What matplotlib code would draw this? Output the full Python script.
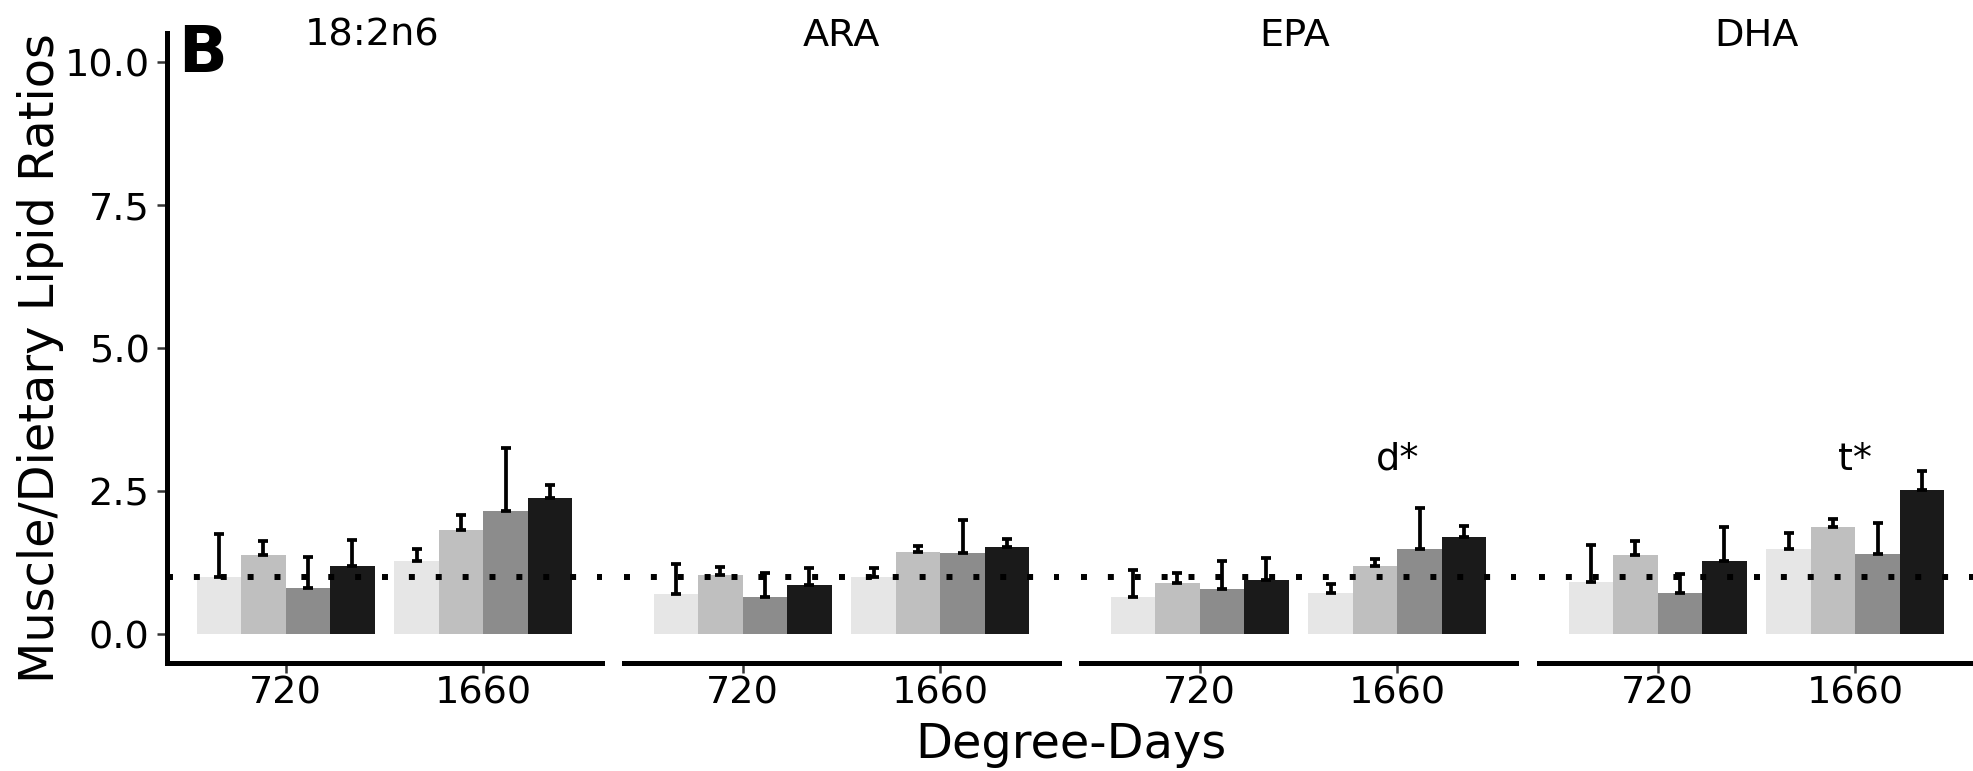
#!/usr/bin/env python3

## Muscle/dietary lipid ratios by fatty acid, degree-days and diet (panel B)

import numpy as np
import matplotlib
matplotlib.use('Agg')
import matplotlib.pyplot as plt
from matplotlib.ticker import FormatStrFormatter


# Data ============================================================== =====
fatty_acids=['18:2n6','ARA','EPA','DHA']
degree_days=['720','1660']
diets=['Diet 1','Diet 2','Diet 3','Diet 4']
diet_colors=['#E6E6E6','#BFBFBF','#8C8C8C','#1A1A1A']

# rows: degree-days (720, 1660), cols: diets
mean_182n6=[[1.00,1.38,0.81,1.19],[1.28,1.83,2.15,2.39]]
se_182n6  =[[0.76,0.25,0.54,0.46],[0.22,0.26,1.10,0.22]]
mean_ara  =[[0.71,1.04,0.66,0.86],[1.00,1.44,1.42,1.53]]
se_ara    =[[0.52,0.14,0.41,0.30],[0.16,0.10,0.57,0.13]]
mean_epa  =[[0.65,0.89,0.79,0.95],[0.72,1.20,1.49,1.70]]
se_epa    =[[0.47,0.18,0.50,0.38],[0.16,0.11,0.72,0.19]]
mean_dha  =[[0.91,1.38,0.73,1.28],[1.49,1.88,1.40,2.52]]
se_dha    =[[0.66,0.25,0.33,0.59],[0.29,0.14,0.55,0.34]]

means=[mean_182n6,mean_ara,mean_epa,mean_dha]
ses=[se_182n6,se_ara,se_epa,se_dha]

# significance letters (fatty acid, degree-days, text, y)
sig_fa=['EPA','DHA']
sig_dd=['1660','1660']
sig_txt=['d*','t*']
sig_y=[3.05,3.05]

ref_ratio=1.0
y_ticks=[0.0,2.5,5.0,7.5,10.0]


# Main part ========================================================= =====
def main():
# =================================================================== =====

    W,H=1974,771
    ndpi=100
    plt.rcParams['font.family']='DejaVu Sans'
    fig=plt.figure(figsize=(W/ndpi,H/ndpi),dpi=ndpi)

    # panel geometry (pixels)
    p_left=[167,624,1081,1539]
    p_wd=435
    p_top=33.4
    p_bot=663
    strip_dx=[-12,0,-4,0]   # small shifts of strip titles seen in the original

    fsz_tick=27.5
    fsz_lab=34.5
    bar_wd=0.225
    x=np.arange(1,len(degree_days)+1)
    offs=(np.arange(len(diets))-1.5)*bar_wd

    for i,fa in enumerate(fatty_acids):
        ax=fig.add_axes([p_left[i]/W,1-p_bot/H,p_wd/W,(p_bot-p_top)/H])
        mm=np.array(means[i])
        ss=np.array(ses[i])
        for j in range(len(diets)):
            ax.bar(x+offs[j],mm[:,j],width=bar_wd,color=diet_colors[j],
                   linewidth=0,zorder=2)
            ax.errorbar(x+offs[j],mm[:,j],yerr=[np.zeros(len(x)),ss[:,j]],
                        fmt='none',ecolor='black',elinewidth=2.7,
                        capsize=3.6,capthick=2.7,zorder=3)
        ax.axhline(ref_ratio,color='black',lw=4.3,ls=(0,(1,3.5)),
                   dash_capstyle='butt',zorder=4)

        for k in range(len(sig_txt)):
            if sig_fa[k]==fa:
                xk=degree_days.index(sig_dd[k])+1
                ax.text(xk,sig_y[k],sig_txt[k],ha='center',va='center',
                        fontsize=fsz_tick,zorder=5)

        ax.set_xlim(0.4,2.6)
        ax.set_ylim(-0.5,10.5)
        ax.set_xticks(x)
        ax.set_xticklabels(degree_days)
        ax.set_yticks(y_ticks)
        ax.yaxis.set_major_formatter(FormatStrFormatter('%.1f'))
        for sp in ['top','right']:
            ax.spines[sp].set_visible(False)
        ax.spines['bottom'].set_linewidth(3.6)
        ax.spines['left'].set_linewidth(3.6)
        ax.tick_params(axis='both',labelsize=fsz_tick,color='#333333',
                       width=1.8,length=7)
        ax.tick_params(axis='x',pad=2)
        ax.tick_params(axis='y',pad=5.5)
        if i>0:
            ax.spines['left'].set_visible(False)
            ax.tick_params(axis='y',left=False,labelleft=False)
        ax.patch.set_alpha(0)

        # strip title
        fig.text((p_left[i]+p_wd/2+strip_dx[i])/W,1-46/H,fa,ha='center',
                 va='baseline',fontsize=fsz_tick)

    # axis titles and panel tag
    fig.text(54/W,1-358/H,'Muscle/Dietary Lipid Ratios',rotation=90,
             rotation_mode='anchor',ha='center',va='baseline',fontsize=fsz_lab)
    fig.text(1071/W,1-758/H,'Degree-Days',ha='center',va='baseline',
             fontsize=fsz_lab)
    fig.text(178/W,1-72/H,'B',ha='left',va='baseline',fontsize=46,
             fontweight='bold')

    plt.savefig('out.png',dpi=ndpi)
    plt.close('all')


# Main call ========================================================= =====
if __name__=='__main__':
    main()
